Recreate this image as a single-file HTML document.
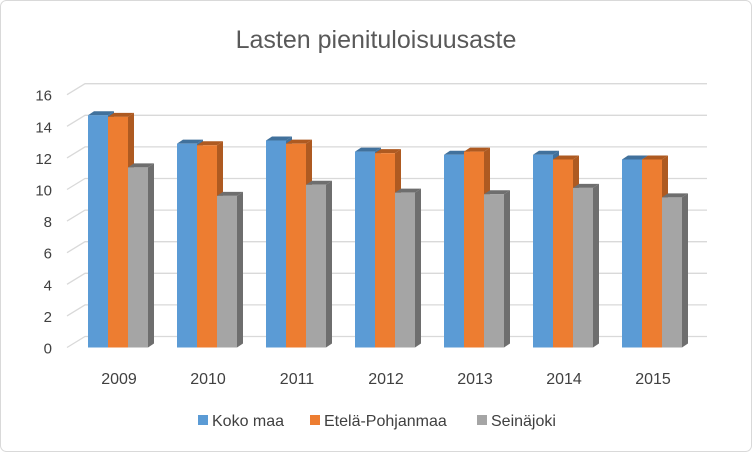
<!DOCTYPE html>
<html><head><meta charset="utf-8"><style>
html,body{margin:0;padding:0;background:#fff}
svg{display:block}
text{font-family:"Liberation Sans",sans-serif}
</style></head><body>
<svg id="chart" width="752" height="452" viewBox="0 0 752 452">
<rect x="0.5" y="0.5" width="751" height="451" rx="6" fill="#fff" stroke="#d9d9d9"/>
<text x="376" y="48" text-anchor="middle" font-size="25" fill="#595959">Lasten pienituloisuusaste</text>
<g id="grid"></g><g id="bars"></g><g id="labels"></g>
<g>
<rect x="198" y="415" width="10" height="10" fill="#5b9bd5"/>
<text x="212" y="426" font-size="16" fill="#404040">Koko maa</text>
<rect x="310" y="415" width="10" height="10" fill="#ed7d31"/>
<text x="324" y="426" font-size="16" fill="#404040">Etelä-Pohjanmaa</text>
<rect x="477" y="415" width="10" height="10" fill="#a5a5a5"/>
<text x="491" y="426" font-size="16" fill="#404040">Seinäjoki</text>
</g>
</svg>
<script>
const categories = ["2009","2010","2011","2012","2013","2014","2015"];
const kokoMaa = [14.7,12.9,13.1,12.4,12.2,12.2,11.9];
const etelaPohjanmaa = [14.6,12.8,12.9,12.3,12.4,11.9,11.9];
const seinajoki = [11.4,9.6,10.3,9.8,9.7,10.1,9.5];
const yTicks = [0,2,4,6,8,10,12,14,16];

const NS="http://www.w3.org/2000/svg";
const FRONT0=347.5, PPU=15.8, BX=18, BY=-11;
const yF=v=>FRONT0-v*PPU;
const xCat=i=>88+i*89;
function mk(tag,attrs,parent){const e=document.createElementNS(NS,tag);for(const k in attrs)e.setAttribute(k,attrs[k]);parent.appendChild(e);return e;}
const grid=document.getElementById('grid'),bars=document.getElementById('bars'),labels=document.getElementById('labels');
yTicks.forEach(t=>{
  const y=yF(t);
  const g=mk('polyline',{points:`67,${y} ${67+BX},${y+BY} 707,${y+BY}`,fill:'none',stroke:'#d9d9d9','stroke-width':1.3},grid);
  
  
  const l=mk('text',{x:52,y:y+6,'text-anchor':'end','font-size':15,fill:'#404040'},labels);
  l.textContent=t;
  
  
});
const series=[[kokoMaa,'#5b9bd5','#41719c','koko-maa'],[etelaPohjanmaa,'#ed7d31','#ae5a21','etela-pohjanmaa'],[seinajoki,'#a5a5a5','#6e6e6e','seinajoki']];
const W=20,DX=6,DY=-4;
categories.forEach((c,i)=>{
  series.forEach((s,j)=>{
    const x=xCat(i)+j*W, top=yF(s[0][i]), bot=FRONT0;
    const g=mk('g',{},bars);
    
    
    mk('polygon',{points:`${x+W},${top} ${x+W+DX},${top+DY} ${x+W+DX},${bot+DY} ${x+W},${bot}`,fill:s[2]},g);
    mk('polygon',{points:`${x},${top} ${x+DX},${top+DY} ${x+W+DX},${top+DY} ${x+W},${top}`,fill:s[2]},g);
    mk('rect',{x:x,y:top,width:W,height:bot-top,fill:s[1]},g);
  });
  const t=mk('text',{x:xCat(i)+31,y:384,'text-anchor':'middle','font-size':16,fill:'#404040'},labels);
  t.textContent=c;
  
  
});
</script>
</body></html>
